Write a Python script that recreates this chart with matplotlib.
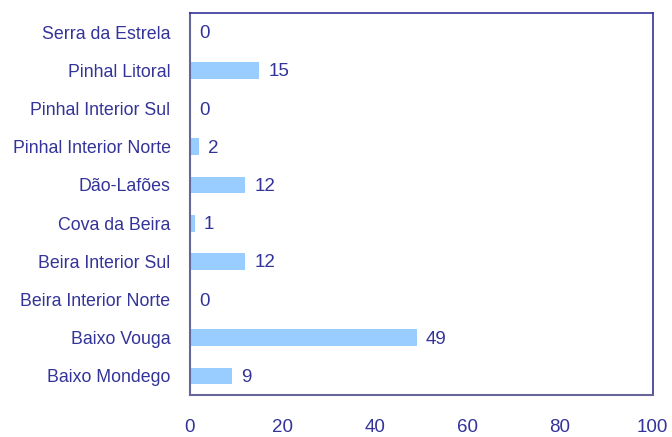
import matplotlib
matplotlib.use('Agg')
import matplotlib.pyplot as plt
import numpy as np

plt.rcParams['font.family'] = ['Liberation Sans', 'DejaVu Sans']

# data, top to bottom as in the chart
regions = ['Serra da Estrela', 'Pinhal Litoral', 'Pinhal Interior Sul',
           'Pinhal Interior Norte', 'Dão-Lafões', 'Cova da Beira',
           'Beira Interior Sul', 'Beira Interior Norte', 'Baixo Vouga',
           'Baixo Mondego']
values = [0, 15, 0, 2, 12, 1, 12, 0, 49, 9]
xticks = [0, 20, 40, 60, 80, 100]

navy = '#333399'

fig = plt.figure(figsize=(6.72, 4.37), dpi=100)
ax = fig.add_axes([0.2827, 0.0961, 0.6883, 0.874])

y = np.arange(len(regions))[::-1]
ax.barh(y, values, height=0.44, color='#99CCFF', zorder=2)

for yi, v in zip(y, values):
    ax.text(v + 2.0, yi - 0.04, str(v), va='center', ha='left', fontsize=13.5, color=navy)

ax.set_xlim(0, 100)
ax.set_ylim(-0.5, len(regions) - 0.5)
ax.set_xticks(xticks)
ax.set_yticks(y)
ax.set_yticklabels(regions)
ax.tick_params(axis='x', length=0, pad=17, labelsize=13.5, labelcolor=navy)
ax.tick_params(axis='y', length=0, pad=14, labelsize=12.8, labelcolor=navy)

for side in ['left', 'bottom']:
    ax.spines[side].set_color('#666699')
    ax.spines[side].set_linewidth(1.5)
for side in ['right', 'top']:
    ax.spines[side].set_color(navy)
    ax.spines[side].set_linewidth(1.2)

fig.savefig('out.png', dpi=100)
